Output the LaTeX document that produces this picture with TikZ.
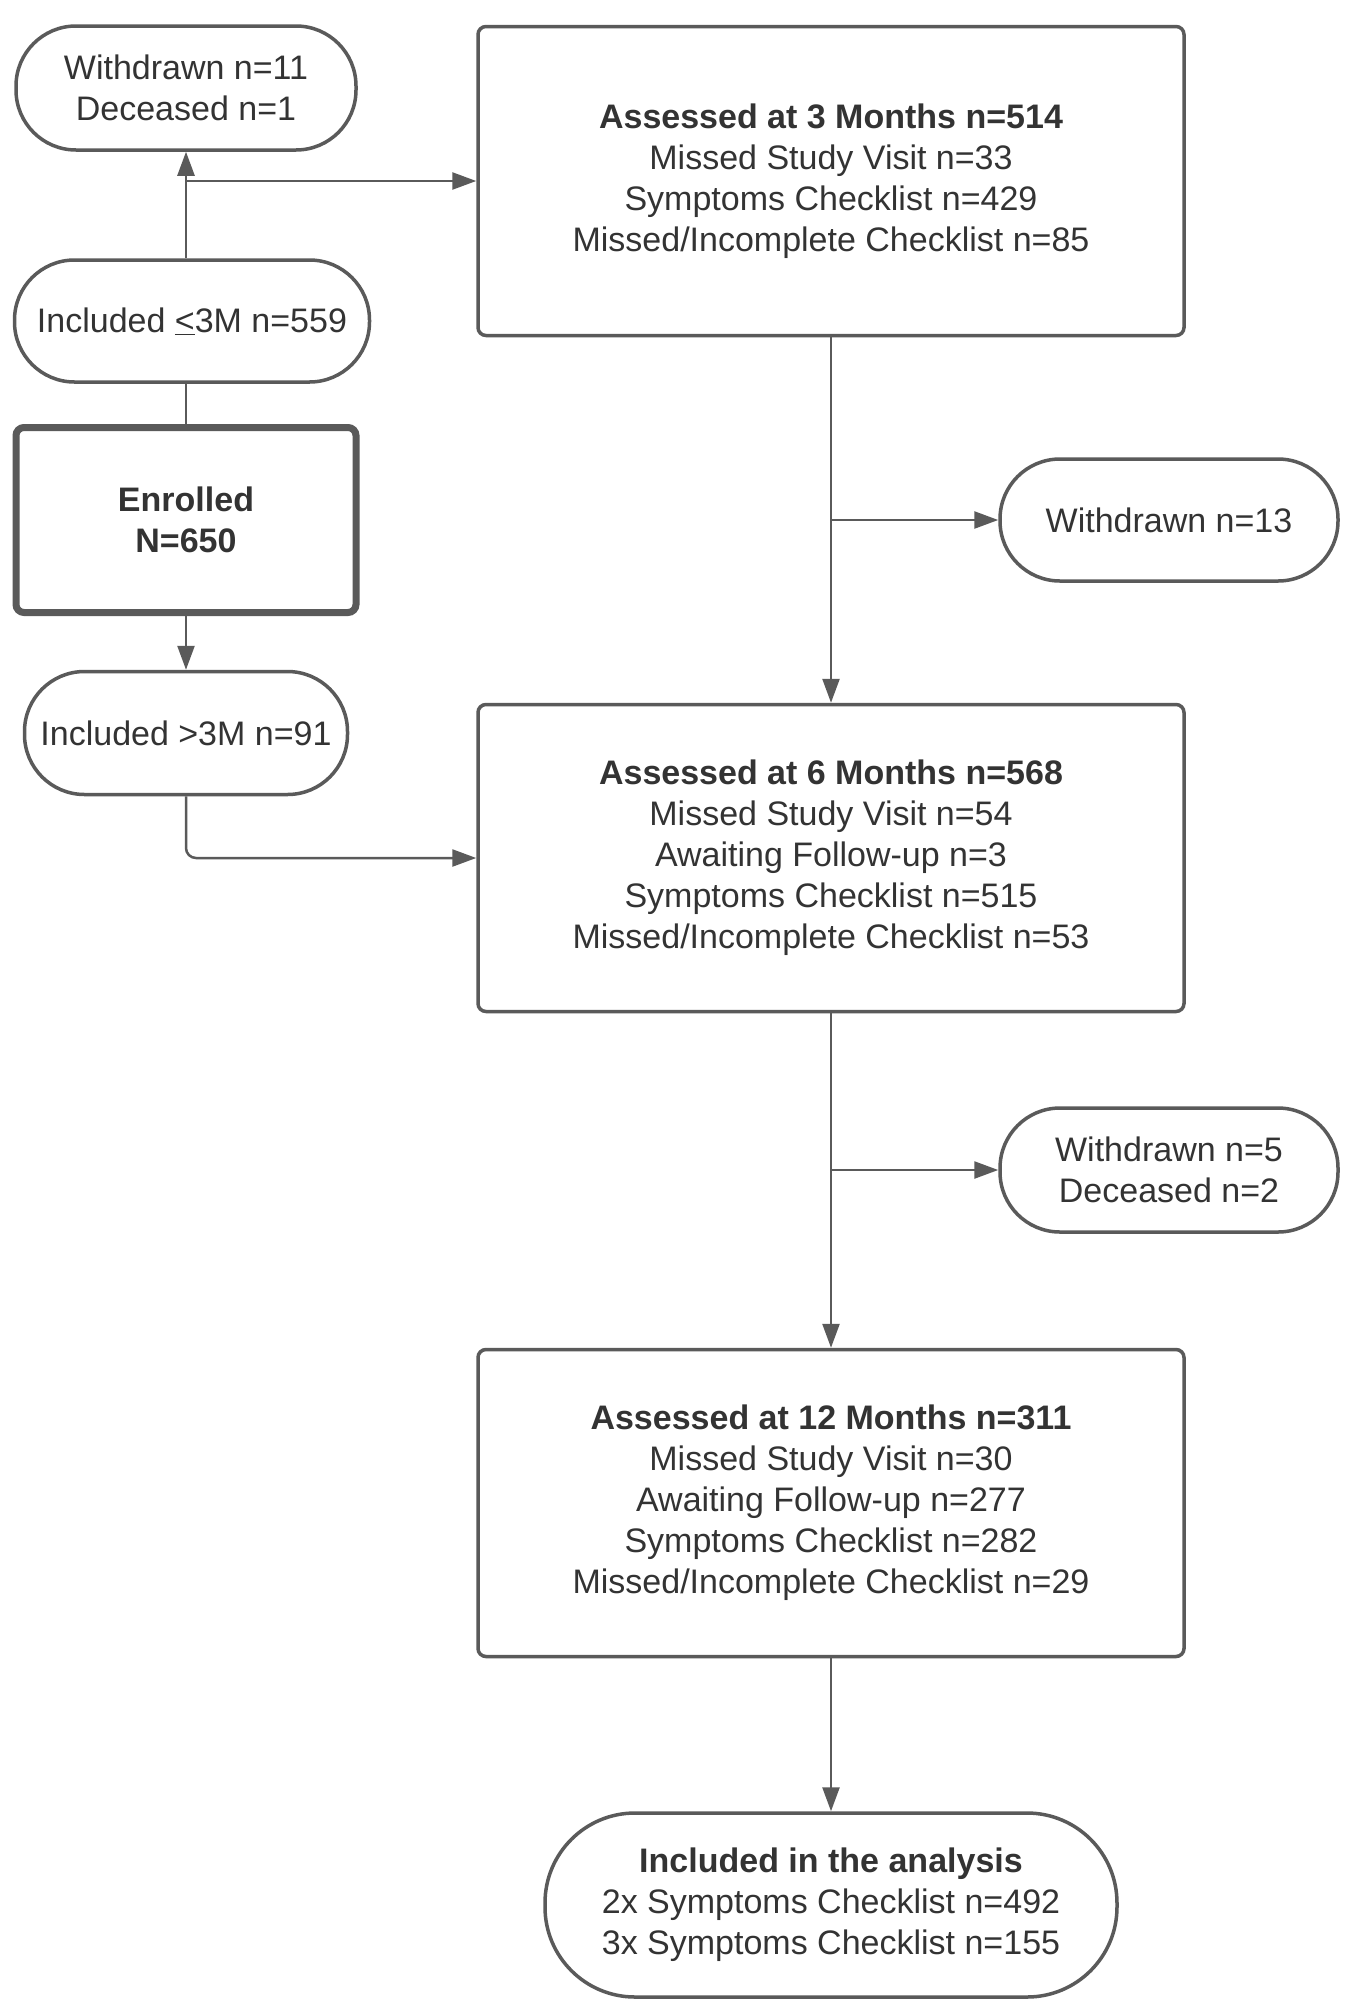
\documentclass[tikz,border=0pt]{standalone}
\usepackage{fontspec}
\setmainfont{Liberation Sans}
\usetikzlibrary{arrows.meta,positioning}
\definecolor{stroke}{HTML}{5A5A5A}
\definecolor{ink}{HTML}{333333}
\tikzset{
  base/.style={draw=stroke, line width=3.5pt, align=center, text=ink, inner sep=0pt,
    font=\fontsize{34}{41}\selectfont},
  stadium/.style={base, rectangle, rounded corners=60pt},
  boxnode/.style={base, rectangle, rounded corners=8pt},
  enrolled/.style={base, rectangle, rounded corners=8pt, line width=7pt},
  conn/.style={draw=stroke, line width=2.5pt},
  arr/.style={conn, -{Triangle[length=24pt,width=17pt]}},
}
\begin{document}
\begin{tikzpicture}[x=1pt,y=-1pt]
\fill[white] (0,0) rectangle (1350,2000);
\useasboundingbox (0,0) rectangle (1350,2000);

\node[stadium, minimum width=340pt, minimum height=124pt] (wd1) at (186,88)
  {Withdrawn n=11\\Deceased n=1};
\node[stadium, minimum width=355pt, minimum height=122pt] (inc3) at (192,321)
  {Included \underline{<}3M n=559};
\node[enrolled, minimum width=340pt, minimum height=185pt] (enr) at (186,520)
  {\textbf{Enrolled}\\\textbf{N=650}};
\node[stadium, minimum width=323pt, minimum height=123pt] (incg) at (186,733)
  {Included >3M n=91};

\node[boxnode, minimum width=706pt, minimum height=309pt] (b1) at (831,181)
  {\textbf{Assessed at 3 Months n=514}\\Missed Study Visit n=33\\Symptoms Checklist n=429\\Missed/Incomplete Checklist n=85};
\node[stadium, minimum width=338pt, minimum height=122pt] (wd2) at (1169,520)
  {Withdrawn n=13};
\node[boxnode, minimum width=706pt, minimum height=307pt] (b2) at (831,858)
  {\textbf{Assessed at 6 Months n=568}\\Missed Study Visit n=54\\Awaiting Follow-up n=3\\Symptoms Checklist n=515\\Missed/Incomplete Checklist n=53};
\node[stadium, minimum width=338pt, minimum height=124pt] (wd3) at (1169,1170)
  {Withdrawn n=5\\Deceased n=2};
\node[boxnode, minimum width=706pt, minimum height=307pt] (b3) at (831,1503)
  {\textbf{Assessed at 12 Months n=311}\\Missed Study Visit n=30\\Awaiting Follow-up n=277\\Symptoms Checklist n=282\\Missed/Incomplete Checklist n=29};
\node[stadium, rounded corners=90pt, minimum width=572pt, minimum height=184pt] (fin) at (831,1905)
  {\textbf{Included in the analysis}\\2x Symptoms Checklist n=492\\3x Symptoms Checklist n=155};

% left column
\coordinate (inc3top) at (wd1.south |- inc3.north);
\coordinate (j1) at (wd1.south |- b1.west);
\draw[arr] (inc3top) -- (wd1.south);
\draw[arr] (j1) -- (b1.west);
\draw[conn] (inc3.south -| enr.north) -- (enr.north);
\draw[arr] (enr.south) -- (incg.north);
\draw[arr, rounded corners=10pt] (incg.south) |- (b2.west);

% main column
\coordinate (j2) at (b1.south |- wd2.west);
\coordinate (j3) at (b2.south |- wd3.west);
\draw[arr] (b1.south) -- (b2.north);
\draw[arr] (j2) -- (wd2.west);
\draw[arr] (b2.south) -- (b3.north);
\draw[arr] (j3) -- (wd3.west);
\draw[arr] (b3.south) -- (fin.north);
\end{tikzpicture}
\end{document}
